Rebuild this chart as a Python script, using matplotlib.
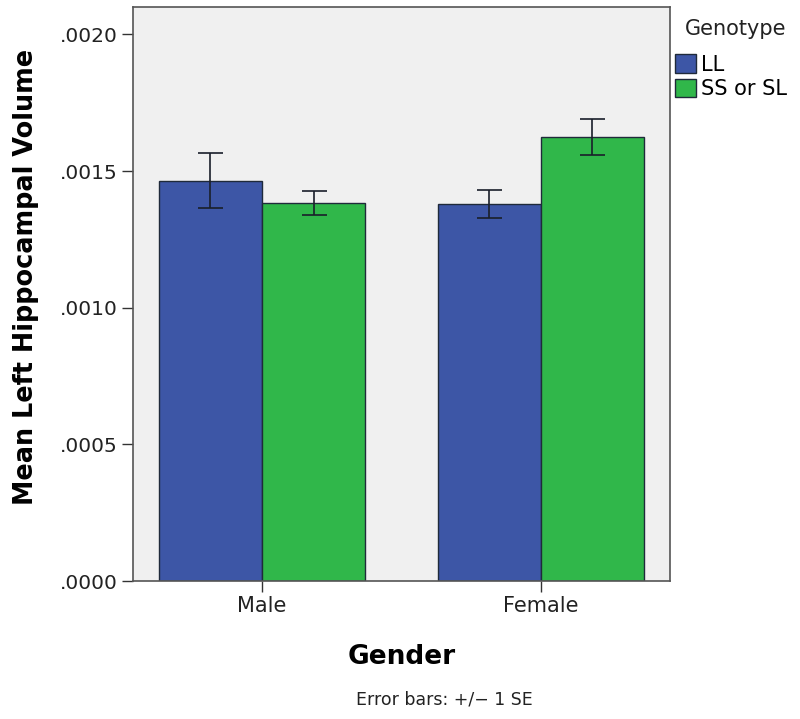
import matplotlib.pyplot as plt
import numpy as np

genders = ["Male", "Female"]
genotypes = ["LL", "SS or SL"]
ll_mean = [0.001465, 0.001378]
ll_se = [0.000100, 0.000051]
ss_mean = [0.001383, 0.001626]
ss_se = [0.000045, 0.000066]
yticks = [0.0, 0.0005, 0.0010, 0.0015, 0.0020]
ytick_labels = [".0000", ".0005", ".0010", ".0015", ".0020"]

fig = plt.figure(figsize=(8, 7.19), dpi=100)
ax = fig.add_axes([0.16625, 0.1919, 0.67125, 0.7983])
ax.set_facecolor("#f0f0f0")

x = np.arange(len(genders))
w = 0.37
err_kw = dict(ecolor="#1a1f2a", elinewidth=1.2, capsize=9, capthick=1.2)
ax.bar(x - w / 2, ll_mean, w, yerr=ll_se, color="#3d56a6", edgecolor="#1f2a3a",
       linewidth=1.0, label=genotypes[0], error_kw=err_kw)
ax.bar(x + w / 2, ss_mean, w, yerr=ss_se, color="#30b74a", edgecolor="#1f2a3a",
       linewidth=1.0, label=genotypes[1], error_kw=err_kw)

ax.set_xlim(-0.463, 1.464)
ax.set_ylim(0, 0.0021)
ax.set_xticks(x)
ax.set_xticklabels(genders, fontsize=15, color="#222222")
ax.set_yticks(yticks)
ax.set_yticklabels(ytick_labels, fontsize=14.5, color="#222222")
ax.tick_params(axis="both", direction="out", length=8, width=1.0, color="#333333", pad=3)
for s in ax.spines.values():
    s.set_color("#555555")
    s.set_linewidth(1.2)

fig.text(26 / 800, 1 - 276.5 / 719, "Mean Left Hippocampal Volume", fontsize=18.4,
         fontweight="bold", rotation=90, ha="center", va="center")
ax.set_xlabel("Gender", fontsize=19, fontweight="bold", labelpad=20)
fig.text(444 / 800, 1 - 700 / 719, "Error bars: +/\u2212 1 SE", fontsize=12.5,
         ha="center", va="center", color="#222222")

# legend title drawn on its own so the gap below it matches
fig.text(736 / 800, 1 - 35 / 719, "Genotype", fontsize=15, ha="center",
         va="baseline", color="#222222")
leg = fig.legend(loc="upper left", bbox_to_anchor=(671 / 800, 1 - 50 / 719),
                 frameon=False, fontsize=15, handlelength=1.0,
                 handleheight=1.0, handletextpad=0.25, labelspacing=0.2, borderpad=0.2,
                 borderaxespad=0)

fig.savefig("out.png", dpi=100)
